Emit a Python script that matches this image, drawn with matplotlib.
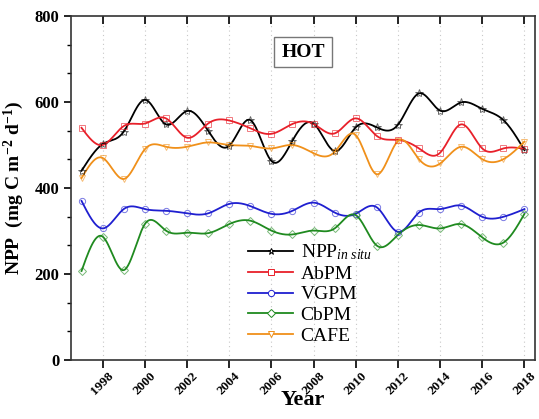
import numpy as np
import matplotlib
matplotlib.use('Agg')
import matplotlib.pyplot as plt
from matplotlib.ticker import MultipleLocator

# données (HOT)
years = list(range(1997, 2019))
npp_insitu = [440, 502, 531, 605, 548, 579, 533, 498, 558, 463, 510,
              550, 486, 541, 541, 547, 620, 580, 599, 584, 558, 488]
abpm = [540, 500, 544, 550, 562, 517, 550, 557, 539, 526, 549,
        549, 527, 562, 521, 512, 492, 482, 548, 492, 492, 491]
vgpm = [370, 306, 351, 351, 347, 341, 341, 363, 358, 340, 347,
        366, 343, 340, 355, 298, 343, 351, 359, 333, 333, 351]
cbpm = [207, 287, 209, 316, 301, 296, 295, 316, 324, 301, 292,
        301, 306, 337, 266, 291, 314, 306, 316, 285, 273, 340]
cafe = [423, 470, 421, 490, 496, 496, 506, 500, 498, 492, 500,
        481, 484, 523, 432, 509, 467, 457, 496, 467, 467, 508]

series = [
    ('NPP$_{\\mathit{in\\ situ}}$', npp_insitu, 'black', '*'),
    ('AbPM', abpm, '#e8202a', 's'),
    ('VGPM', vgpm, '#1f1fd0', 'o'),
    ('CbPM', cbpm, '#1f8a1f', 'D'),
    ('CAFE', cafe, '#f0901a', 'v'),
]


# spline cubique naturelle (comme le "spline" d'Origin)
def natural_spline(x, y, n=600):
    x = np.asarray(x, float)
    y = np.asarray(y, float)
    k = len(x)
    h = np.diff(x)
    A = np.zeros((k, k))
    b = np.zeros(k)
    A[0, 0] = 1
    A[-1, -1] = 1
    for i in range(1, k - 1):
        A[i, i - 1] = h[i - 1]
        A[i, i] = 2 * (h[i - 1] + h[i])
        A[i, i + 1] = h[i]
        b[i] = 6 * ((y[i + 1] - y[i]) / h[i] - (y[i] - y[i - 1]) / h[i - 1])
    M = np.linalg.solve(A, b)
    xs = np.linspace(x[0], x[-1], n)
    idx = np.clip(np.searchsorted(x, xs) - 1, 0, k - 2)
    x0, x1 = x[idx], x[idx + 1]
    hh = x1 - x0
    t0 = x1 - xs
    t1 = xs - x0
    ys = (M[idx] * t0 ** 3 / (6 * hh) + M[idx + 1] * t1 ** 3 / (6 * hh)
          + (y[idx] / hh - M[idx] * hh / 6) * t0
          + (y[idx + 1] / hh - M[idx + 1] * hh / 6) * t1)
    return xs, ys


plt.rcParams['font.family'] = ['Liberation Serif', 'DejaVu Serif']
plt.rcParams['mathtext.fontset'] = 'custom'
plt.rcParams['mathtext.rm'] = 'Liberation Serif'
plt.rcParams['mathtext.it'] = 'Liberation Serif:italic'
plt.rcParams['mathtext.bf'] = 'Liberation Serif:bold'

fig = plt.figure(figsize=(5.39, 4.19), dpi=100)
ax = fig.add_axes([0.1317, 0.1408, 0.8609, 0.821])

for label, vals, color, mk in series:
    xs, ys = natural_spline(years, vals)
    ax.plot(xs, ys, color=color, lw=1.3, zorder=3)
    ax.plot(years, vals, ls='none', marker=mk, ms=4.5 if mk != '*' else 6,
            mfc='none', mec=color, mew=0.7, alpha=0.6, zorder=4)
    ax.plot([], [], color=color, lw=1.3, marker=mk, ms=4.5, mfc='white',
            mec=color, mew=0.7, label=label)

ax.set_xlim(1996.5, 2018.5)
ax.set_ylim(0, 800)
ax.set_xticks(range(1998, 2019, 2))
ax.yaxis.set_major_locator(MultipleLocator(200))
ax.yaxis.set_minor_locator(MultipleLocator(200 / 3))
ax.grid(axis='x', color='#c8c8c8', ls=(0, (1, 3)), lw=0.8)

for s in ax.spines.values():
    s.set_linewidth(1.2)
    s.set_color('#333333')
ax.tick_params(axis='y', which='major', direction='out', length=5, width=1.2,
               labelsize=12)
ax.tick_params(axis='y', which='minor', direction='out', length=3, width=1.0)
ax.tick_params(axis='x', which='major', direction='out', length=6, width=1.2,
               labelsize=9.5, top=True, pad=1)
for t in ax.get_yticklabels():
    t.set_fontweight('bold')
for t in ax.get_xticklabels():
    t.set_fontweight('bold')
    t.set_rotation(45)
    t.set_ha('center')

# les ticks du haut pointent vers l'intérieur
for tk in ax.xaxis.get_major_ticks():
    tk.tick2line.set_marker(3)
    tk.tick2line.set_markersize(6)

ax.set_xlabel('Year', fontsize=16, fontweight='bold', labelpad=-5)
ax.set_ylabel('NPP  (mg C m$^{\\mathbf{-2}}$ d$^{\\mathbf{-1}}$)', fontsize=14,
              fontweight='bold', labelpad=6)

ax.text(0.5, 0.895, 'HOT', transform=ax.transAxes, ha='center', va='center',
        fontsize=14, fontweight='bold',
        bbox=dict(boxstyle='square,pad=0.35', fc='white', ec='#777777', lw=1))

ax.legend(loc='lower center', bbox_to_anchor=(0.515, 0.01), frameon=False,
          fontsize=14, handlelength=2.3, handletextpad=0.4, labelspacing=0.16,
          borderaxespad=0.2)

fig.savefig('out.png', dpi=100)
